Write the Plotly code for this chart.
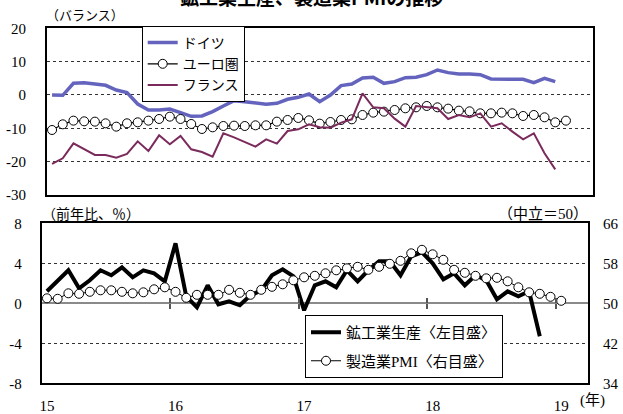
import plotly.graph_objects as go

# ---------------- data ----------------
year_labels = ["15", "16", "17", "18", "19"]
year_tick_pos = [0, 12, 24, 36, 48]          # January of each year (month index)
year_boundaries = [11.5, 23.5, 35.5, 47.5]   # tick marks between Dec and Jan

germany = [0.0, -0.1, 3.5, 3.7, 3.3, 2.9, 1.5, 0.7, -2.7, -4.5, -4.5, -4.2,
           -5.3, -6.4, -6.3, -5.0, -3.3, -1.7, -2.0, -2.5, -2.8, -2.5, -1.3, -0.7,
           0.3, -2.0, 0.0, 2.8, 3.3, 5.1, 5.3, 3.5, 4.0, 5.2, 5.3, 6.1,
           7.5, 6.7, 6.3, 6.3, 6.1, 4.8, 4.7, 4.6, 4.7, 3.7, 5.0, 4.0]
eurozone = [-10.5, -8.8, -7.7, -7.9, -8.0, -8.5, -9.5, -8.5, -8.2, -7.7, -7.2, -6.5,
            -7.2, -8.7, -10.2, -9.7, -9.3, -9.2, -9.3, -9.1, -9.1, -8.0, -7.5, -6.9,
            -7.6, -8.6, -8.1, -7.5, -7.3, -6.0, -5.3, -5.0, -4.5, -4.0, -3.7, -3.3,
            -3.7, -4.1, -4.7, -4.9, -5.5, -5.5, -5.3, -5.5, -6.3, -6.0, -6.7, -8.2,
            -7.7]
france = [-20.7, -19.0, -14.5, -16.3, -18.0, -18.0, -18.8, -17.7, -13.9, -16.8, -12.1, -14.8,
          -12.3, -16.3, -17.1, -18.5, -11.5, -12.7, -14.0, -15.5, -13.3, -14.6, -10.8, -10.3,
          -8.8, -9.7, -9.8, -8.3, -7.3, 0.5, -3.7, -4.0, -7.1, -9.5, -3.3, -3.7,
          -4.0, -7.2, -6.0, -6.7, -5.5, -9.5, -8.5, -11.0, -13.3, -11.5, -17.5, -22.3]

production = [1.2, 2.2, 3.3, 1.5, 2.3, 3.3, 2.8, 3.6, 2.6, 3.3, 3.0, 2.2,
              6.0, 0.7, -0.4, 1.8, -0.1, 0.2, -0.2, 0.8, 1.3, 2.8, 3.4, 2.7,
              -0.7, 1.8, 2.2, 1.6, 3.3, 2.2, 3.3, 4.2, 4.2, 2.8, 4.7, 5.1,
              4.0, 2.4, 3.0, 1.8, 2.8, 2.3, 0.4, 1.2, 0.7, 1.2, -3.3]
pmi = [51.0, 50.9, 52.0, 51.9, 52.3, 52.6, 52.6, 52.3, 52.0, 52.2, 52.8, 53.2,
       52.3, 51.1, 51.7, 51.7, 51.7, 52.7, 52.1, 51.7, 52.7, 53.3, 53.8, 54.6,
       55.2, 55.5, 56.0, 56.6, 57.0, 57.3, 56.7, 57.3, 57.9, 58.5, 60.0, 60.7,
       59.8, 58.7, 56.7, 56.1, 55.5, 55.0, 55.1, 54.4, 53.2, 52.2, 51.9, 51.3,
       50.5]

top_ticks = [20, 10, 0, -10, -20, -30]
top_ticktext = ["20", "10", "0", "-10", "-20", "-30"]
left_ticks = [8, 4, 0, -4, -8]
left_ticktext = ["8", "4", "0", "-4", "-8"]
right_ticks = [66, 58, 50, 42, 34]
right_ticktext = ["66", "58", "50", "42", "34"]

# ---------------- styling ----------------
W, H = 623, 414
SERIF = "Liberation Serif, Noto Sans CJK JP"
JP = "Noto Sans CJK JP"
BLUE = "#6464BE"
PLUM = "#7A2B5C"


def px_x(p):
    return p / W


def px_y(p):
    return (H - p) / H


def idx(series):
    return list(range(len(series)))


fig = go.Figure()

# top panel
fig.add_trace(go.Scatter(x=idx(germany), y=germany, mode="lines", name="ドイツ",
                         line=dict(color=BLUE, width=3.5), xaxis="x", yaxis="y",
                         legend="legend"))
fig.add_trace(go.Scatter(x=idx(eurozone), y=eurozone, mode="lines+markers", name="ユーロ圏",
                         line=dict(color="black", width=1.2),
                         marker=dict(symbol="circle", size=9, color="white",
                                     line=dict(color="black", width=1)),
                         xaxis="x", yaxis="y", legend="legend"))
fig.add_trace(go.Scatter(x=idx(france), y=france, mode="lines", name="フランス",
                         line=dict(color=PLUM, width=2), xaxis="x", yaxis="y",
                         legend="legend"))

# bottom panel
fig.add_trace(go.Scatter(x=idx(production), y=production, mode="lines",
                         name="鉱工業生産〈左目盛〉",
                         line=dict(color="black", width=4), xaxis="x2", yaxis="y2",
                         legend="legend2", legendgroup="a"))
fig.add_trace(go.Scatter(x=idx(pmi), y=pmi, mode="lines+markers",
                         name="製造業PMI〈右目盛〉",
                         line=dict(color="black", width=1),
                         marker=dict(symbol="circle", size=9, color="white",
                                     line=dict(color="black", width=1)),
                         xaxis="x2", yaxis="y3", legend="legend2", legendgroup="b"))

# helper (invisible) traces so that the year tick-mark axes on the zero line render
for ax in ("x3", "x4"):
    fig.add_trace(go.Scatter(x=[None], y=[None], xaxis=ax, yaxis="y2",
                             showlegend=False, hoverinfo="skip"))

top_dom_x = [px_x(46.7), px_x(592.7)]
top_dom_y = [px_y(195), px_y(28.3)]
bot_dom_x = [px_x(41.6), px_x(588)]
bot_dom_y = [px_y(383.3), px_y(223.3)]
zero_pos = (bot_dom_y[0] + bot_dom_y[1]) / 2

frame = dict(showline=True, mirror=True, linecolor="black", linewidth=1.5,
             zeroline=False)
tickfont = dict(family=SERIF, size=15, color="black")

fig.update_layout(
    width=W, height=H,
    margin=dict(l=0, r=0, t=0, b=0, autoexpand=False),
    paper_bgcolor="white", plot_bgcolor="white",
    showlegend=True,
    xaxis=dict(domain=top_dom_x, anchor="y", range=[-0.5, 50.5], automargin=False,
               showticklabels=False, ticks="", showgrid=False, **frame),
    yaxis=dict(domain=top_dom_y, anchor="x", range=[-30, 20], automargin=False,
               tickvals=top_ticks, ticktext=top_ticktext, ticks="", ticklen=0,
               showgrid=True, gridcolor="#333", griddash="dot", gridwidth=1,
               tickfont=tickfont, ticklabelstandoff=16, **frame),
    xaxis2=dict(domain=bot_dom_x, anchor="y2", range=[-0.5, 50.5], automargin=False,
                tickvals=year_tick_pos, ticktext=year_labels, ticks="", ticklen=0,
                showgrid=False, tickfont=tickfont, ticklabelstandoff=8, **frame),
    yaxis2=dict(domain=bot_dom_y, anchor="x2", range=[-8, 8], automargin=False,
                tickvals=left_ticks, ticktext=left_ticktext, ticks="", ticklen=0,
                showgrid=True, gridcolor="#333", griddash="dot", gridwidth=1,
                tickfont=tickfont, ticklabelstandoff=15,
                showline=True, mirror=True, linecolor="black", linewidth=1.5,
                zeroline=True, zerolinecolor="#8a8a8a", zerolinewidth=2),
    yaxis3=dict(overlaying="y2", anchor="x2", side="right", range=[34, 66],
                automargin=False,
                tickvals=right_ticks, ticktext=right_ticktext, ticks="", ticklen=0,
                showgrid=False, zeroline=False, showline=False,
                tickfont=tickfont, ticklabelstandoff=14),
    xaxis3=dict(overlaying="x2", anchor="free", position=zero_pos, side="bottom",
                automargin=False,
                range=[-0.5, 50.5], tickvals=year_boundaries, ticks="outside",
                ticklen=5, tickwidth=1.5, tickcolor="#555", showticklabels=False,
                showgrid=False, zeroline=False, showline=False),
    xaxis4=dict(overlaying="x2", anchor="free", position=zero_pos, side="top",
                automargin=False,
                range=[-0.5, 50.5], tickvals=year_boundaries, ticks="outside",
                ticklen=5, tickwidth=1.5, tickcolor="#555", showticklabels=False,
                showgrid=False, zeroline=False, showline=False),
    legend=dict(x=px_x(141.7), y=px_y(26), xanchor="left", yanchor="top",
                bgcolor="white", bordercolor="black", borderwidth=1,
                font=dict(family=JP, size=14, color="black"),
                itemwidth=30, tracegroupgap=0),
    legend2=dict(x=px_x(305), y=px_y(315), xanchor="left", yanchor="top",
                 bgcolor="white", bordercolor="black", borderwidth=1,
                 font=dict(family=SERIF, size=15, color="black"),
                 itemwidth=30, traceorder="grouped", tracegroupgap=6),
    annotations=[
        dict(text="<b>鉱工業生産、製造業PMIの推移</b>", x=px_x(311), y=px_y(-3),
             xref="paper", yref="paper", xanchor="center", yanchor="middle",
             showarrow=False, font=dict(family=JP, size=19, color="black")),
        dict(text="（バランス）", x=px_x(44), y=px_y(14), xref="paper", yref="paper",
             xanchor="left", yanchor="middle", showarrow=False,
             font=dict(family=JP, size=13, color="black")),
        dict(text="（前年比、％）", x=px_x(40), y=px_y(213), xref="paper", yref="paper",
             xanchor="left", yanchor="middle", showarrow=False,
             font=dict(family=JP, size=14, color="black")),
        dict(text="（中立＝50）", x=px_x(590), y=px_y(214), xref="paper", yref="paper",
             xanchor="right", yanchor="middle", showarrow=False,
             font=dict(family=SERIF, size=15, color="black")),
        dict(text="(年)", x=px_x(578), y=px_y(400), xref="paper", yref="paper",
             xanchor="left", yanchor="middle", showarrow=False,
             font=dict(family=SERIF, size=15, color="black")),
    ],
)

fig.write_html(
    "out.html",
    config={"displayModeBar": False},
    post_script="document.body.style.margin='0';document.body.style.overflow='hidden';",
)
